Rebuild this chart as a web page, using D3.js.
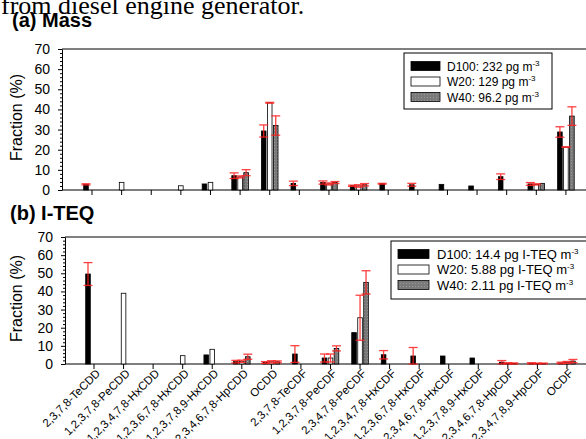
<!DOCTYPE html>
<html>
<head>
<meta charset="utf-8">
<script src="https://cdn.jsdelivr.net/npm/d3@7"></script>
<style>
  body { margin: 0; background: #fff; }
  svg text { font-family: "Liberation Sans", Arial, sans-serif; fill: #000; }
</style>
</head>
<body>
<div id="chart"></div>
<script>
var categories = [
  "2,3,7,8-TeCDD", "1,2,3,7,8-PeCDD", "1,2,3,4,7,8-HxCDD", "1,2,3,6,7,8-HxCDD",
  "1,2,3,7,8,9-HxCDD", "1,2,3,4,6,7,8-HpCDD", "OCDD", "2,3,7,8-TeCDF",
  "1,2,3,7,8-PeCDF", "2,3,4,7,8-PeCDF", "1,2,3,4,7,8-HxCDF", "1,2,3,6,7,8-HxCDF",
  "2,3,4,6,7,8-HxCDF", "1,2,3,7,8,9-HxCDF", "1,2,3,4,6,7,8-HpCDF",
  "1,2,3,4,7,8,9-HpCDF", "OCDF"
];
var yTicks = [0, 10, 20, 30, 40, 50, 60, 70];

// (a) Mass
var massD100 = [2.8, 0, 0, 0, 3.0, 7.1, 29.3, 3.3, 3.7, 2.1, 3.1, 2.6, 2.8, 2.0, 6.6, 3.0, 28.8];
var massD100Err = [0.3, 0, 0, 0, 0, 1.4, 3.0, 1.1, 0.8, 0.3, 0.2, 0.7, 0, 0, 1.4, 0.7, 2.6];
var massW20 = [0, 3.8, 0, 2.1, 3.8, 6.5, 43.3, 0, 3.0, 2.0, 0, 0, 0, 0, 0, 2.8, 21.3];
var massW20Err = [0, 0, 0, 0, 0, 0.5, 0.2, 0, 0.5, 0.6, 0, 0, 0, 0, 0, 0.3, 0.1];
var massW40 = [0, 0, 0, 0, 0, 8.6, 32.0, 0, 3.7, 2.6, 0, 0, 0, 0, 0, 3.3, 36.7];
var massW40Err = [0, 0, 0, 0, 0, 1.5, 4.8, 0, 0.5, 0.6, 0, 0, 0, 0, 0, 0, 4.6];
var massLegend = ["D100: 232 pg m", "W20: 129 pg m", "W40: 96.2 pg m"];

// (b) I-TEQ
var teqD100 = [49.6, 0, 0, 0, 5.0, 1.3, 0.8, 5.5, 3.3, 17.3, 5.1, 4.4, 4.4, 3.3, 1.0, 0.4, 0.6];
var teqD100Err = [6.3, 0, 0, 0, 0, 0.7, 0.5, 4.6, 2.2, 0, 2.3, 4.7, 0, 0, 0.9, 0.3, 0.4];
var teqW20 = [0, 39.0, 0, 4.6, 8.1, 1.5, 1.2, 0, 3.3, 25.5, 0, 0, 0, 0, 0.4, 0.3, 0.9];
var teqW20Err = [0, 0, 0, 0, 0, 0.6, 0.6, 0, 2.2, 12.4, 0, 0, 0, 0, 0.3, 0.2, 0.5];
var teqW40 = [0, 0, 0, 0, 0, 4.0, 1.2, 0, 8.6, 45.0, 0, 0, 0, 0, 0.3, 0.3, 1.6];
var teqW40Err = [0, 0, 0, 0, 0, 1.4, 0.5, 0, 1.4, 6.4, 0, 0, 0, 0, 0.3, 0.2, 0.9];
var teqLegend = ["D100: 14.4 pg I-TEQ m", "W20: 5.88 pg I-TEQ m", "W40: 2.11 pg I-TEQ m"];

var seriesFill = ["#000000", "#ffffff", "url(#dots)"];

var panelA = { top: 49, bottom: 190, left: 62, first: 92, step: 29.62,
  legend: { x: 404, y: 53, w: 148, h: 56, sw: 29, tx: 447, fs: 12 } };
var panelB = { top: 237, bottom: 364, left: 65, first: 94, step: 29.56,
  legend: { x: 391, y: 241, w: 200, h: 58, sw: 31, tx: 437, fs: 13 } };

var svg = d3.select("#chart")
  .append("svg")
  .attr("width", 586)
  .attr("height", 439);

/* grey fill with faint dots, like the W40 bars */
let pat = svg.append("defs").append("pattern")
  .attr("id", "dots")
  .attr("width", 3).attr("height", 3)
  .attr("patternUnits", "userSpaceOnUse");
pat.append("rect").attr("width", 3).attr("height", 3).style("fill", "#7a7a7a");
pat.append("rect").attr("x", 1).attr("y", 1).attr("width", 1).attr("height", 1).style("fill", "#9a9a9a");

svg.append("text")
  .attr("x", 1).attr("y", 14)
  .style("font-family", "'Liberation Serif', 'Times New Roman', serif")
  .style("font-size", "26px")
  .text("from diesel engine generator.");

svg.append("text").attr("x", 12).attr("y", 27)
  .style("font-size", "20px").style("font-weight", "bold").text("(a) Mass");
svg.append("text").attr("x", 10).attr("y", 220)
  .style("font-size", "20px").style("font-weight", "bold").text("(b) I-TEQ");

function drawPanel(p, values, errors, legendLabels, showLabels) {
  let g = svg.append("g");

  let x = d3.scaleBand()
    .domain(categories)
    .range([p.first - p.step / 2, p.first - p.step / 2 + p.step * categories.length]);
  let y = d3.scaleLinear()
    .domain([0, 70])
    .range([p.bottom, p.top]);

  /* frame lines */
  g.append("line")
    .attr("x1", p.left).attr("x2", 600)
    .attr("y1", p.top).attr("y2", p.top)
    .style("stroke", "#000").style("stroke-width", 1);
  g.append("line")
    .attr("x1", p.left).attr("x2", 600)
    .attr("y1", p.bottom).attr("y2", p.bottom)
    .style("stroke", "#000").style("stroke-width", 1.2);

  /* y axis, major and minor */
  g.append("g")
    .attr("transform", `translate(${p.left}, 0)`)
    .call(d3.axisLeft(y).tickValues(yTicks).tickSize(4).tickSizeOuter(0).tickPadding(8))
    .call((a) => a.selectAll("text").style("font-size", "14px"));
  g.append("g")
    .attr("transform", `translate(${p.left}, 0)`)
    .call(d3.axisLeft(y).tickValues(d3.range(2, 70, 2).filter((v) => v % 10 !== 0)).tickSize(2).tickFormat(""))
    .call((a) => a.select(".domain").remove());

  /* x ticks */
  g.append("g")
    .attr("transform", `translate(0, ${p.bottom})`)
    .call(d3.axisBottom(x).tickSize(5).tickFormat(""))
    .call((a) => a.select(".domain").remove());

  if (showLabels) {
    g.append("g")
      .selectAll("text")
      .data(categories)
      .enter()
      .append("text")
      .attr("transform", (d) => `translate(${x(d) + x.bandwidth() / 2 + 7}, ${p.bottom + 10}) rotate(-45)`)
      .attr("text-anchor", "end")
      .style("font-size", "11.5px")
      .text((d) => d);
  }

  /* y label */
  g.append("text")
    .attr("transform", `translate(22, ${(p.top + p.bottom) / 2 - 2}) rotate(-90)`)
    .attr("text-anchor", "middle")
    .style("font-size", "16px")
    .text("Fraction (%)");

  /* bars */
  let barW = 4.6;
  for (let s = 0; s < 3; s++) {
    let rows = categories.map((c, i) => ({ cat: c, v: values[s][i], e: errors[s][i] }));
    let cx = (d) => x(d.cat) + x.bandwidth() / 2 + (s - 1) * 6;

    g.append("g")
      .selectAll("rect")
      .data(rows.filter((d) => d.v > 0))
      .enter()
      .append("rect")
      .attr("x", (d) => cx(d) - barW / 2)
      .attr("y", (d) => y(d.v))
      .attr("width", barW)
      .attr("height", (d) => y(0) - y(d.v))
      .style("fill", seriesFill[s])
      .style("stroke", "#000")
      .style("stroke-width", 0.8);
  }

  /* error bars on top */
  for (let s = 0; s < 3; s++) {
    let rows = categories.map((c, i) => ({ cat: c, v: values[s][i], e: errors[s][i] }))
      .filter((d) => d.v > 0 && d.e > 0);
    let cx = (d) => x(d.cat) + x.bandwidth() / 2 + (s - 1) * 6;
    let eg = g.append("g")
      .style("stroke", "#ff2020")
      .style("stroke-width", 1.3)
      .style("opacity", 0.85);

    eg.selectAll("line.v")
      .data(rows)
      .enter()
      .append("line")
      .attr("x1", cx).attr("x2", cx)
      .attr("y1", (d) => y(Math.max(0, d.v - d.e)))
      .attr("y2", (d) => y(d.v + d.e));
    eg.selectAll("line.hi")
      .data(rows)
      .enter()
      .append("line")
      .attr("x1", (d) => cx(d) - 4.5).attr("x2", (d) => cx(d) + 4.5)
      .attr("y1", (d) => y(d.v + d.e)).attr("y2", (d) => y(d.v + d.e));
    eg.selectAll("line.lo")
      .data(rows)
      .enter()
      .append("line")
      .attr("x1", (d) => cx(d) - 4.5).attr("x2", (d) => cx(d) + 4.5)
      .attr("y1", (d) => y(Math.max(0, d.v - d.e))).attr("y2", (d) => y(Math.max(0, d.v - d.e)));
  }

  /* legend */
  let L = p.legend;
  let lg = g.append("g");
  lg.append("rect")
    .attr("x", L.x).attr("y", L.y)
    .attr("width", L.w).attr("height", L.h)
    .style("fill", "#fff").style("stroke", "#000").style("stroke-width", 1);
  legendLabels.forEach((label, i) => {
    let cy = L.y + 13 + i * 15.5;
    lg.append("rect")
      .attr("x", L.x + 7).attr("y", cy - 4.5)
      .attr("width", L.sw).attr("height", 9)
      .style("fill", seriesFill[i]).style("stroke", "#000").style("stroke-width", 0.8);
    let t = lg.append("text")
      .attr("x", L.tx).attr("y", cy + 4.5)
      .style("font-size", L.fs + "px")
      .text(label);
    t.append("tspan")
      .attr("dy", -5)
      .style("font-size", "8px")
      .text("-3");
  });
}

drawPanel(panelA, [massD100, massW20, massW40], [massD100Err, massW20Err, massW40Err], massLegend, false);
drawPanel(panelB, [teqD100, teqW20, teqW40], [teqD100Err, teqW20Err, teqW40Err], teqLegend, true);
</script>
</body>
</html>
